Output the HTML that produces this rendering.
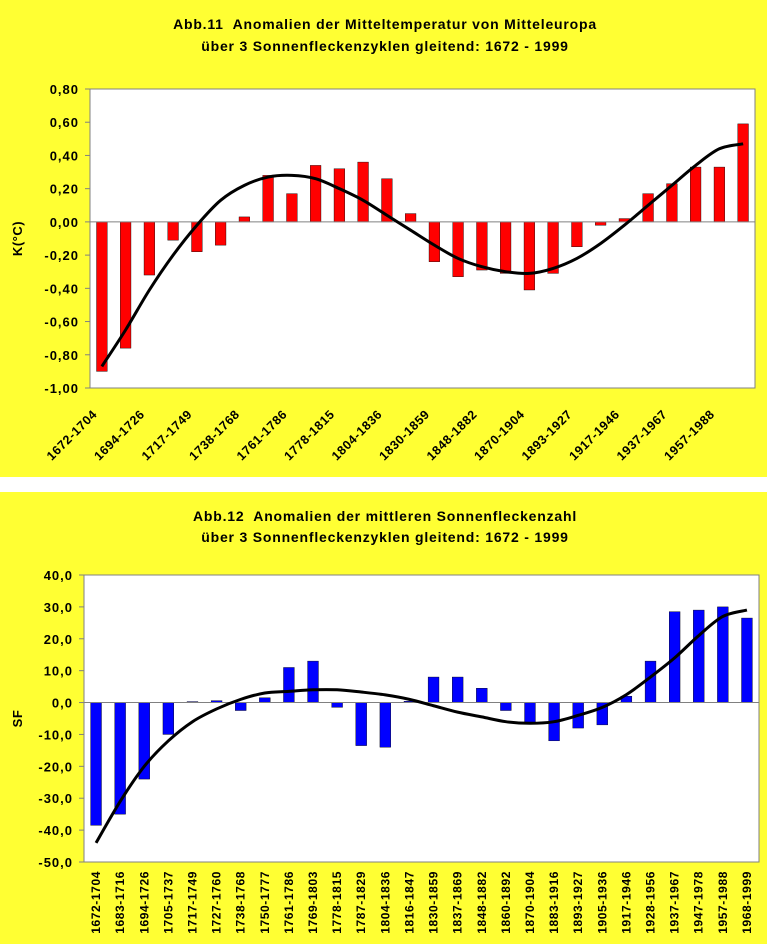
<!DOCTYPE html>
<html><head><meta charset="utf-8">
<style>
html,body{margin:0;padding:0;background:#fff;}
svg{display:block;font-family:"Liberation Sans",Arial,sans-serif;}
text{white-space:pre;}
</style></head>
<body>
<svg id="svg" width="767" height="944" viewBox="0 0 767 944">
  <rect x="0" y="0" width="767" height="477" fill="#ffff33"/>
  <rect x="0" y="492" width="767" height="452" fill="#ffff33"/>
  <text x="385" y="29" text-anchor="middle" font-size="14" font-weight="bold" letter-spacing="0.8">Abb.11  Anomalien der Mitteltemperatur von Mitteleuropa</text>
  <text x="385" y="51" text-anchor="middle" font-size="14" font-weight="bold" letter-spacing="0.8">über 3 Sonnenfleckenzyklen gleitend: 1672 - 1999</text>
  <text x="385" y="521" text-anchor="middle" font-size="14" font-weight="bold" letter-spacing="0.8">Abb.12  Anomalien der mittleren Sonnenfleckenzahl</text>
  <text x="385" y="542" text-anchor="middle" font-size="14" font-weight="bold" letter-spacing="0.8">über 3 Sonnenfleckenzyklen gleitend: 1672 - 1999</text>
  <g id="c1"></g>
  <g id="c2"></g>
</svg>
<script>
const tempCategories=["1672-1704","","1694-1726","","1717-1749","","1738-1768","","1761-1786","","1778-1815","","1804-1836","","1830-1859","","1848-1882","","1870-1904","","1893-1927","","1917-1946","","1937-1967","","1957-1988",""];
const tempValues=[-0.90,-0.76,-0.32,-0.11,-0.18,-0.14,0.03,0.28,0.17,0.34,0.32,0.36,0.26,0.05,-0.24,-0.33,-0.29,-0.31,-0.41,-0.31,-0.15,-0.02,0.02,0.17,0.23,0.33,0.33,0.59];
const tempTrend=[-0.87,-0.65,-0.41,-0.20,-0.02,0.13,0.22,0.27,0.28,0.26,0.20,0.13,0.04,-0.05,-0.14,-0.22,-0.27,-0.30,-0.31,-0.28,-0.22,-0.13,-0.02,0.10,0.22,0.34,0.44,0.47];
const tempTicks=[0.8,0.6,0.4,0.2,0,-0.2,-0.4,-0.6,-0.8,-1.0];

const sfCategories=["1672-1704","1683-1716","1694-1726","1705-1737","1717-1749","1727-1760","1738-1768","1750-1777","1761-1786","1769-1803","1778-1815","1787-1829","1804-1836","1816-1847","1830-1859","1837-1869","1848-1882","1860-1892","1870-1904","1883-1916","1893-1927","1905-1936","1917-1946","1928-1956","1937-1967","1947-1978","1957-1988","1968-1999"];
const sfValues=[-38.5,-35,-24,-10,0.3,0.6,-2.5,1.5,11,13,-1.5,-13.5,-14,0.4,8,8,4.5,-2.5,-6.5,-12,-8,-7,2,13,28.5,29,30,26.5];
const sfTrend=[-44,-31,-20,-12,-6,-2,1,3,3.5,4,4,3.3,2.4,1,-1,-3,-4.5,-6,-6.5,-6,-4,-1.5,2.5,8,14,21,27,29];
const sfTicks=[40,30,20,10,0,-10,-20,-30,-40,-50];

const NS="http://www.w3.org/2000/svg";
function mk(tag,attrs,parent){const e=document.createElementNS(NS,tag);for(const k in attrs)e.setAttribute(k,attrs[k]);parent.appendChild(e);return e;}
function smooth(pts){let d=`M${pts[0][0]},${pts[0][1]}`;for(let i=0;i<pts.length-1;i++){const p0=pts[Math.max(0,i-1)],p1=pts[i],p2=pts[i+1],p3=pts[Math.min(pts.length-1,i+2)];const c1x=p1[0]+(p2[0]-p0[0])/6,c1y=p1[1]+(p2[1]-p0[1])/6,c2x=p2[0]-(p3[0]-p1[0])/6,c2y=p2[1]-(p3[1]-p1[1])/6;d+=` C${c1x},${c1y} ${c2x},${c2y} ${p2[0]},${p2[1]}`;}return d;}

function chart(g,cfg){
  const {L,R,T,B,min,max,cats,vals,trend,ticks,color,fmt,ytitle,prefix,rot}=cfg;
  const n=vals.length,step=(R-L)/n;
  const y=v=>T+(max-v)/(max-min)*(B-T);
  const x=i=>L+step*(i+0.5);
  const plot=mk('rect',{x:L,y:T,width:R-L,height:B-T,fill:'#fff',stroke:'#808080','stroke-width':1},g);
  
  
  ticks.forEach(t=>{
    const tl=mk('line',{x1:L-5,x2:L,y1:y(t),y2:y(t),stroke:'#808080'},g);
    
    
    const tx=mk('text',{x:L-11,y:y(t)+5,'text-anchor':'end','font-size':13,'font-weight':'bold','letter-spacing':1},g);
    tx.textContent=fmt(t);
    
    
  });
  const yt=mk('text',{x:0,y:0,'text-anchor':'middle','font-size':13,'font-weight':'bold','letter-spacing':0.5,transform:`translate(${cfg.ytx},${(T+B)/2}) rotate(-90)`},g);
  yt.textContent=ytitle;
  
  
  const bw=step*0.45;
  vals.forEach((v,i)=>{
    const y0=y(0),y1=y(v);
    const b=mk('rect',{x:x(i)-bw/2,y:Math.min(y0,y1),width:bw,height:Math.max(0.5,Math.abs(y1-y0)),fill:color,stroke:'#000','stroke-width':0.4},g);
    
    
  });
  const z=mk('line',{x1:L,x2:R,y1:y(0),y2:y(0),stroke:'#808080'},g);
  
  
  const pts=trend.map((v,i)=>[x(i),y(v)]);
  const p=mk('path',{d:smooth(pts),fill:'none',stroke:'#000','stroke-width':3},g);
  
  
  cats.forEach((c,i)=>{
    if(!c)return;
    let t;
    if(rot===45){
      t=mk('text',{x:0,y:0,'text-anchor':'end','font-size':12.5,'font-weight':'bold','letter-spacing':0.6,transform:`translate(${x(i)-4},${B+27}) rotate(-45)`},g);
    }else{
      t=mk('text',{x:0,y:0,'text-anchor':'end','font-size':12,'font-weight':'bold','letter-spacing':0.6,transform:`translate(${x(i)+4},${B+9}) rotate(-90)`},g);
    }
    t.textContent=c;
    
    
  });
}
chart(document.getElementById('c1'),{L:90,R:755,T:89,B:388,min:-1,max:0.8,cats:tempCategories,vals:tempValues,trend:tempTrend,ticks:tempTicks,color:'#ff0000',fmt:t=>t.toFixed(2).replace('.',','),ytitle:'K(°C)',ytx:22,prefix:'temp',rot:45});
chart(document.getElementById('c2'),{L:84,R:759,T:575,B:862,min:-50,max:40,cats:sfCategories,vals:sfValues,trend:sfTrend,ticks:sfTicks,color:'#0000ff',fmt:t=>t.toFixed(1).replace('.',','),ytitle:'SF',ytx:22,prefix:'sf',rot:90});
</script>
</body></html>
